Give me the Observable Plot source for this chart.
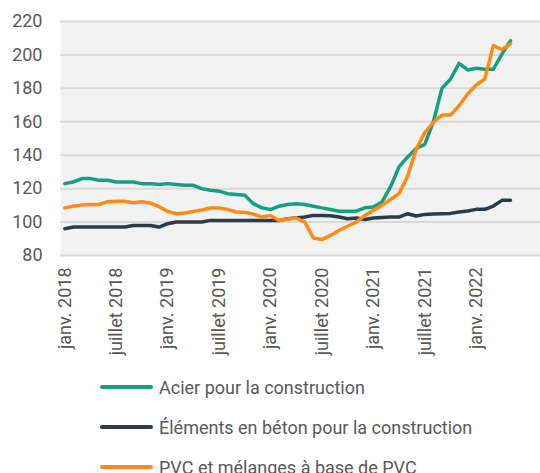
<!DOCTYPE html>
<html>
<head>
<meta charset="utf-8">
<script src="https://cdn.jsdelivr.net/npm/d3@7"></script>
<script src="https://cdn.jsdelivr.net/npm/@observablehq/plot@0.6"></script>
<style>
  html, body { margin: 0; padding: 0; background: #ffffff; }
  body { width: 540px; height: 473px; overflow: hidden; font-family: Roboto, "Noto Sans", sans-serif; }
  #legend { margin-top: 2px; }
  .row { display: flex; align-items: center; height: 40px; padding-left: 100px; font-size: 18px; color: #595959; }
  .sw { width: 53px; height: 3.5px; border-radius: 2px; margin-right: 6px; flex: none; }
</style>
</head>
<body>
<div id="chart"></div>
<div id="legend"></div>
<script>
// Categories (month axis, Jan 2018 – Aug 2022)
const months = [
  "2018-01","2018-02","2018-03","2018-04","2018-05","2018-06","2018-07","2018-08","2018-09","2018-10","2018-11","2018-12",
  "2019-01","2019-02","2019-03","2019-04","2019-05","2019-06","2019-07","2019-08","2019-09","2019-10","2019-11","2019-12",
  "2020-01","2020-02","2020-03","2020-04","2020-05","2020-06","2020-07","2020-08","2020-09","2020-10","2020-11","2020-12",
  "2021-01","2021-02","2021-03","2021-04","2021-05","2021-06","2021-07","2021-08","2021-09","2021-10","2021-11","2021-12",
  "2022-01","2022-02","2022-03","2022-04","2022-05","2022-06","2022-07","2022-08"
];

// Series names
const seriesNames = [
  "Acier pour la construction",
  "Éléments en béton pour la construction",
  "PVC et mélanges à base de PVC"
];
const seriesColors = ["#14a07f", "#2c3a4c", "#ff8b17"];

// Values (Jan 2018 – May 2022)
const acier = [
  123, 124, 126, 126, 125, 125, 124, 124, 124, 123, 123, 122.5,
  123, 122.5, 122, 122, 120, 119, 118.5, 117, 116.5, 116, 111, 108.5,
  107.5, 109.5, 110.5, 111, 110.5, 109.5, 108.5, 107.5, 106.5, 106.5, 106.5, 108.5,
  109, 112, 121, 133, 139, 144, 146.5, 160, 180, 185.5, 195, 191,
  192, 191.5, 191.5, 200.5, 208.5
];
const beton = [
  96, 97, 97, 97, 97, 97, 97, 97, 98, 98, 98, 97,
  99, 100, 100, 100, 100, 101, 101, 101, 101, 101, 101, 101,
  101, 101, 102, 102.5, 103, 104, 104, 103.8, 103, 102, 102.4, 101.5,
  102.4, 102.8, 103, 103, 105, 103.6, 104.6, 104.8, 105, 105.2, 106, 106.6,
  107.6, 107.6, 109.6, 113, 113
];
const pvc = [
  108.5, 109.5, 110.2, 110.5, 110.5, 112.2, 112.4, 112.4, 111.6, 112.2, 111.4, 109.2,
  106.4, 105, 105.4, 106.4, 107.2, 108.4, 108.4, 107.6, 106, 105.8, 104.8, 103,
  104, 101, 101.8, 102.4, 100, 90.5, 89.5, 92, 95, 97.5, 100, 104,
  107, 110, 113.5, 117, 127.5, 143.5, 153.5, 159.6, 164, 164, 169.6, 176.6,
  182, 185.6, 205.6, 203.2, 206.6
];

// Axis ticks
const yTicks = [80, 100, 120, 140, 160, 180, 200, 220];
const xTickMonths = ["2018-01","2018-07","2019-01","2019-07","2020-01","2020-07","2021-01","2021-07","2022-01"];
const xTickLabels = ["janv. 2018","juillet 2018","janv. 2019","juillet 2019","janv. 2020","juillet 2020","janv. 2021","juillet 2021","janv. 2022"];

const seriesValues = [acier, beton, pvc];
const data = [];
seriesValues.forEach((vals, s) => {
  vals.forEach((v, i) => data.push({month: months[i], value: v, series: seriesNames[s]}));
});

const labelOf = new Map(xTickMonths.map((m, i) => [m, xTickLabels[i]]));

const chart = Plot.plot({
  width: 540,
  height: 365,
  marginLeft: 60,
  marginRight: 0,
  marginTop: 21,
  marginBottom: 110,
  style: {fontFamily: "Roboto, sans-serif", fontSize: "18px", color: "#595959", background: "#ffffff"},
  x: {type: "point", domain: months, padding: 0.5},
  y: {domain: [80, 220]},
  color: {domain: seriesNames, range: seriesColors},
  marks: [
    Plot.frame({fill: "#f2f2f2", stroke: "none"}),
    Plot.ruleY(yTicks, {stroke: "#d9d9d9", strokeWidth: 2}),
    Plot.axisY({ticks: yTicks, tickSize: 0, tickPadding: 18, label: null, fill: "#595959"}),
    Plot.axisX({ticks: xTickMonths, tickFormat: d => labelOf.get(d), tickRotate: -90, tickSize: 0, tickPadding: 12, label: null, fill: "#595959"}),
    Plot.lineY(data, {x: "month", y: "value", z: "series", stroke: "series", strokeWidth: 3.5, strokeLinejoin: "round", strokeLinecap: "round"})
  ]
});
document.getElementById("chart").appendChild(chart);

const legend = document.getElementById("legend");
seriesNames.forEach((name, i) => {
  const row = document.createElement("div");
  row.className = "row";
  const sw = document.createElement("span");
  sw.className = "sw";
  sw.style.background = seriesColors[i];
  const t = document.createElement("span");
  t.textContent = name;
  row.appendChild(sw);
  row.appendChild(t);
  legend.appendChild(row);
});
</script>
</body>
</html>
